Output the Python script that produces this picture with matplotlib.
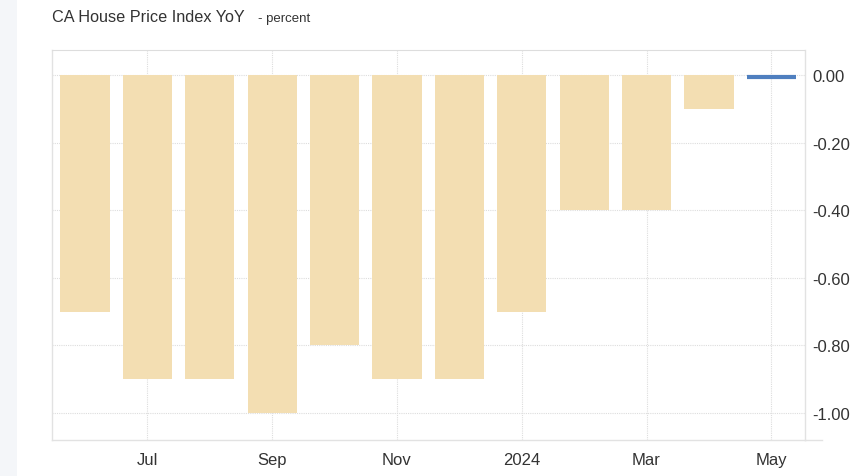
import matplotlib
matplotlib.use("Agg")
from matplotlib import pyplot as plt
from matplotlib.lines import Line2D

plt.rcParams['font.family'] = ['Liberation Sans', 'DejaVu Sans']

# monthly values, Jun 2023 .. Apr 2024 as bars, May 2024 as latest (line)
months = ["Jun", "Jul", "Aug", "Sep", "Oct", "Nov", "Dec", "Jan", "Feb", "Mar", "Apr"]
values = [-0.7, -0.9, -0.9, -1.0, -0.8, -0.9, -0.9, -0.7, -0.4, -0.4, -0.1]
latest_value = 0.0
tick_labels = ["Jul", "Sep", "Nov", "2024", "Mar", "May"]
y_ticks = [0.0, -0.2, -0.4, -0.6, -0.8, -1.0]

fig = plt.figure(figsize=(8.6, 4.77), dpi=100)
fig.patch.set_facecolor("white")

# pale strip on the far left
fig.add_artist(plt.Rectangle((0, 0), 17 / 860, 1, transform=fig.transFigure,
                             facecolor="#f4f6f9", edgecolor="none"))

ax = fig.add_axes([52 / 860, 1 - 441 / 477, (805 - 52) / 860, (441 - 51) / 477])

x = list(range(len(values)))
ax.bar(x, values, width=0.79, color="#f3deb2", zorder=2)
latest_x = len(values)
ax.plot([latest_x - 0.39, latest_x + 0.39], [latest_value - 0.006, latest_value - 0.006],
        color="#4f7fbf", lw=3, solid_capstyle="butt", zorder=3)

ax.set_xlim(-0.53, 11.54)
ax.set_ylim(-1.08, 0.074)

ax.set_xticks([1, 3, 5, 7, 9, 11])
ax.set_xticklabels(tick_labels)
ax.set_yticks(y_ticks)
ax.set_yticklabels([f"{v:.2f}" for v in y_ticks])
ax.yaxis.tick_right()
ax.tick_params(axis="both", length=0, labelsize=12, colors="#333333")
ax.tick_params(axis="y", pad=5)
ax.tick_params(axis="x", pad=9)

ax.grid(True, color="#dddddd", linestyle=(0, (1, 1)), lw=0.8, zorder=0)
ax.set_axisbelow(True)

ax.spines["top"].set_color("#dddddd")
ax.spines["top"].set_linestyle((0, (1, 1)))
ax.spines["top"].set_linewidth(0.8)
for side in ["left", "right", "bottom"]:
    ax.spines[side].set_color("#e2e2e2")
    ax.spines[side].set_linewidth(1.0)

# bottom line runs a little past the right axis
fig.add_artist(Line2D([805 / 860, 822 / 860], [1 - 441 / 477, 1 - 441 / 477],
                      transform=fig.transFigure, color="#e2e2e2", lw=1.0))

fig.text(52 / 860, 1 - 18 / 477, "CA House Price Index YoY", fontsize=11.7,
         color="#333333", va="center", ha="left")
fig.text(258 / 860, 1 - 19 / 477, "- percent", fontsize=9.5,
         color="#333333", va="center", ha="left")

fig.savefig("out.png", dpi=100)
